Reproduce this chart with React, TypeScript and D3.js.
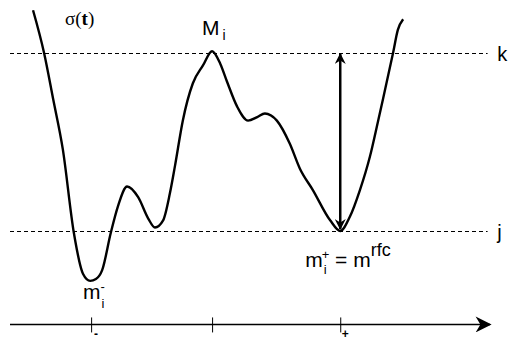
import * as d3 from "d3";

const WIDTH = 508;
const HEIGHT = 342;

// sigma(t): t in [0, 100], sigma with j = 0 and k = 10
const tValues = [
  4.8, 7.1, 9.0, 11.0, 13.3, 15.2, 16.7, 17.9, 19.2, 21.0, 22.5, 24.4, 26.7, 28.8, 30.2, 31.9, 33.3, 34.4,
  36.0, 38.1, 40.2, 42.1, 43.8, 45.2, 47.3, 49.6, 51.5, 53.1, 55.6, 58.3, 60.4, 63.1, 66.7, 68.8, 70.8, 72.9,
  75.0, 76.7, 77.7, 79.8, 80.8, 81.9,
];
const sigmaValues = [
  12.4, 10.0, 7.4, 4.6, -0.1, -2.4, -2.8, -2.7, -2.2, -0.1, 1.4, 2.5, 1.9, 0.7, 0.2, 0.6, 2.1, 3.7,
  6.2, 8.3, 9.3, 10.1, 9.4, 8.4, 7.0, 6.2, 6.4, 6.6, 6.2, 4.9, 3.5, 2.3, 0.6, 0.0, 0.8, 2.3,
  4.2, 6.2, 7.4, 10.0, 11.3, 11.9,
];

const levelNames = ["j", "k"];
const levelValues = [0, 10];

const tickValues = [16.9, 42.1, 68.8];
const tickSigns = ["-", "", "+"];

const axisSigma = -5.25;
const tMinus = 16.9;
const tPeak = 42.1;
const tPlus = 68.8;

export default function App() {
  const x = d3.scaleLinear().domain([0, 100]).range([10, 490]);
  const y = d3.scaleLinear().domain([0, 10]).range([231, 53]);

  const points = tValues.map((t, i) => [t, sigmaValues[i]] as [number, number]);
  const line = d3
    .line<[number, number]>()
    .x((d) => x(d[0]))
    .y((d) => y(d[1]))
    .curve(d3.curveMonotoneX);

  const axisY = y(axisSigma);
  const sans = "'Liberation Sans', Arial, sans-serif";

  return (
    <svg
      width={WIDTH}
      height={HEIGHT}
      style={{ position: "absolute", left: 0, top: 0, background: "#fff" }}
    >
      <defs>
        <marker id="head" viewBox="0 0 10 10" refX="9" refY="5" markerUnits="userSpaceOnUse"
          markerWidth="15" markerHeight="11" orient="auto-start-reverse">
          <path d="M0,0 L10,5 L0,10 L3,5 Z" fill="#000" />
        </marker>
        <marker id="axisHead" viewBox="0 0 10 10" refX="9" refY="5" markerUnits="userSpaceOnUse"
          markerWidth="18" markerHeight="16" orient="auto">
          <path d="M0,0 L10,5 L0,10 L3,5 Z" fill="#000" />
        </marker>
      </defs>

      {levelValues.map((v, i) => (
        <g key={levelNames[i]}>
          <line x1={x(0)} x2={x(99.5)} y1={y(v) + 0.5} y2={y(v) + 0.5} stroke="#000" strokeWidth={1} strokeDasharray="4,3" />
          <text x={x(101.5)} y={y(v) + 8} fontFamily={sans} fontSize={20} fill="#000">
            {levelNames[i]}
          </text>
        </g>
      ))}

      <path d={line(points) ?? ""} fill="none" stroke="#000" strokeWidth={2.4} strokeLinejoin="round" />

      <line x1={x(tPlus)} x2={x(tPlus)} y1={y(0) - 2} y2={y(10) + 1} stroke="#000" strokeWidth={2.5}
        markerStart="url(#head)" markerEnd="url(#head)" />

      <line x1={x(0)} x2={x(100)} y1={axisY} y2={axisY} stroke="#000" strokeWidth={1.5} markerEnd="url(#axisHead)" />
      {tickValues.map((t, i) => (
        <g key={t}>
          <line x1={x(t) + 0.5} x2={x(t) + 0.5} y1={axisY - 7} y2={axisY + 8} stroke="#000" strokeWidth={1} />
          <text x={x(t) + 5} y={axisY + 14} fontFamily={sans} fontSize={12} fontWeight="bold" fill="#000" textAnchor="middle">
            {tickSigns[i]}
          </text>
        </g>
      ))}

      <text x={65} y={25} fontFamily="'Liberation Serif', 'Times New Roman', serif" fontSize={19} fill="#000">
        σ(<tspan fontWeight="bold">t</tspan>)
      </text>

      <text x={x(tPeak) - 10} y={y(10) - 18} fontFamily={sans} fontSize={21} fill="#000">
        M<tspan fontSize={14} dx={3} dy={5}>i</tspan>
      </text>

      <text x={x(tMinus) - 8} y={y(-2.8) + 18} fontFamily={sans} fontSize={21} fill="#000">
        m<tspan fontSize={13} dx={1} dy={9}>i</tspan>
        <tspan fontSize={13} dx={-4} dy={-17}>-</tspan>
      </text>

      <text x={x(tPlus) - 35} y={y(0) + 36} fontFamily={sans} fontSize={21} fill="#000">
        m<tspan fontSize={13} dx={1} dy={7}>i</tspan>
        <tspan fontSize={13} dx={-5} dy={-15}>+</tspan>
        <tspan dy={8}> = m</tspan>
        <tspan fontSize={18} dy={-11}>rfc</tspan>
      </text>
    </svg>
  );
}
